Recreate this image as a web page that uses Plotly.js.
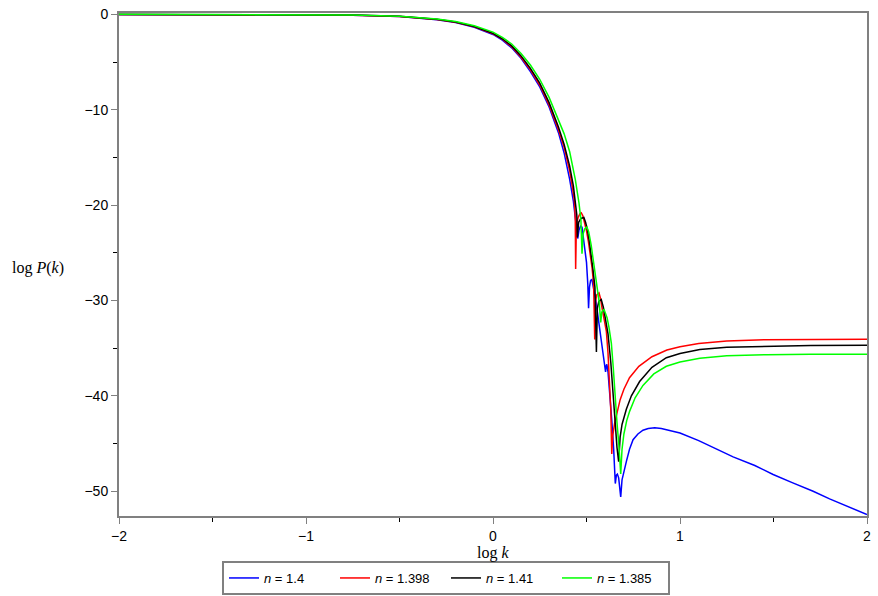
<!DOCTYPE html>
<html>
<head>
<meta charset="utf-8">
<script src="https://cdn.plot.ly/plotly-3.0.1.min.js"></script>
<style>html,body{margin:0;padding:0;background:#fff;}#chart{width:878px;height:596px;}</style>
</head>
<body>
<div id="chart"></div>
<script>
// Series names (legend)
const seriesNames = ["<i>n</i> = 1.4", "<i>n</i> = 1.398", "<i>n</i> = 1.41", "<i>n</i> = 1.385"];
const seriesColors = ["#0000ff", "#ff0000", "#000000", "#00ff00"];

// n = 1.4 (blue)
const xBlue = [-2, -1.5, -1, -0.75, -0.5, -0.4, -0.3, -0.2, -0.1, 0, 0.05, 0.1, 0.15, 0.2, 0.25, 0.3, 0.35, 0.38, 0.41, 0.43, 0.445, 0.453, 0.46, 0.468, 0.476, 0.49, 0.5, 0.507, 0.511, 0.516, 0.522, 0.529, 0.54, 0.55, 0.565, 0.58, 0.592, 0.598, 0.602, 0.606, 0.609, 0.615, 0.625, 0.635, 0.645, 0.654, 0.66, 0.665, 0.672, 0.678, 0.683, 0.69, 0.7, 0.713, 0.73, 0.749, 0.775, 0.802, 0.83, 0.865, 0.9, 0.95, 1.0, 1.1, 1.2, 1.284, 1.4, 1.498, 1.6, 1.712, 1.8, 1.9, 2.0];
const yBlue = [0, -0.01, -0.03, -0.08, -0.22, -0.35, -0.55, -0.85, -1.35, -2.1, -2.7, -3.5, -4.6, -6.0, -7.6, -9.7, -12.4, -14.5, -17.3, -19.6, -21.8, -23.5, -22.6, -22.2, -22.3, -24.2, -26.0, -28.3, -30.8, -28.6, -27.9, -27.8, -28.8, -30.0, -32.2, -34.3, -36.0, -36.9, -37.5, -36.8, -36.7, -37.5, -39.8, -42.5, -45.5, -49.2, -48.3, -48.2, -48.6, -49.5, -50.6, -48.8, -47.9, -46.9, -45.6, -44.6, -44.0, -43.6, -43.42, -43.35, -43.42, -43.62, -43.9, -44.7, -45.6, -46.4, -47.3, -48.25, -49.1, -50.0, -50.8, -51.6, -52.45];

// n = 1.398 (red)
const xRed = [-2, -1.5, -1, -0.75, -0.5, -0.4, -0.3, -0.2, -0.1, 0, 0.05, 0.1, 0.15, 0.2, 0.25, 0.3, 0.35, 0.38, 0.41, 0.425, 0.435, 0.44, 0.442, 0.446, 0.455, 0.465, 0.472, 0.48, 0.49, 0.5, 0.51, 0.52, 0.53, 0.538, 0.544, 0.549, 0.555, 0.567, 0.575, 0.585, 0.595, 0.606, 0.615, 0.624, 0.63, 0.635, 0.64, 0.651, 0.665, 0.68, 0.7, 0.73, 0.78, 0.85, 0.93, 1.0, 1.1, 1.25, 1.45, 1.7, 2.0];
const yRed = [0, -0.01, -0.03, -0.08, -0.21, -0.34, -0.53, -0.82, -1.3, -2.03, -2.6, -3.4, -4.5, -5.8, -7.4, -9.5, -12.1, -13.9, -16.4, -18.2, -19.5, -21.5, -26.7, -22.0, -21.3, -20.9, -20.8, -21.1, -21.8, -22.7, -23.8, -25.0, -26.6, -28.3, -34.1, -30.0, -29.4, -29.2, -29.8, -31.0, -32.3, -33.2, -35.5, -38.4, -41.5, -46.1, -44.2, -42.8, -41.5, -40.4, -39.3, -38.1, -36.9, -35.9, -35.2, -34.85, -34.5, -34.25, -34.12, -34.08, -34.07];

// n = 1.41 (black)
const xBlack = [-2, -1.5, -1, -0.75, -0.5, -0.4, -0.3, -0.2, -0.1, 0, 0.05, 0.1, 0.15, 0.2, 0.25, 0.3, 0.35, 0.38, 0.41, 0.43, 0.443, 0.448, 0.451, 0.458, 0.47, 0.486, 0.495, 0.505, 0.515, 0.525, 0.535, 0.545, 0.553, 0.558, 0.566, 0.579, 0.59, 0.6, 0.615, 0.63, 0.642, 0.655, 0.663, 0.672, 0.68, 0.69, 0.7, 0.713, 0.74, 0.784, 0.85, 0.927, 1.0, 1.106, 1.25, 1.463, 1.7, 2.0];
const yBlack = [0, -0.01, -0.03, -0.07, -0.2, -0.32, -0.51, -0.8, -1.27, -1.98, -2.55, -3.3, -4.35, -5.65, -7.2, -9.25, -11.8, -13.6, -15.9, -18.0, -19.8, -21.0, -23.4, -21.8, -21.4, -21.3, -21.8, -22.6, -23.8, -25.2, -26.8, -28.6, -35.4, -30.8, -30.1, -29.9, -30.7, -31.8, -33.5, -36.5, -39.8, -43.3, -45.4, -46.9, -44.3, -43.0, -42.3, -41.4, -40.0, -38.5, -37.0, -36.0, -35.55, -35.15, -34.9, -34.78, -34.72, -34.7];

// n = 1.385 (green)
const xGreen = [-2, -1.5, -1, -0.75, -0.5, -0.4, -0.3, -0.2, -0.1, 0, 0.05, 0.1, 0.15, 0.2, 0.25, 0.3, 0.35, 0.38, 0.41, 0.44, 0.46, 0.47, 0.476, 0.482, 0.49, 0.502, 0.512, 0.525, 0.54, 0.555, 0.568, 0.576, 0.582, 0.593, 0.6, 0.61, 0.62, 0.633, 0.643, 0.651, 0.663, 0.674, 0.683, 0.69, 0.7, 0.715, 0.731, 0.76, 0.802, 0.86, 0.927, 1.0, 1.106, 1.25, 1.463, 1.7, 2.0];
const yGreen = [0.02, 0.01, -0.02, -0.06, -0.18, -0.3, -0.47, -0.74, -1.18, -1.85, -2.4, -3.1, -4.1, -5.3, -6.8, -8.7, -11.1, -12.5, -14.4, -17.3, -19.8, -21.5, -25.1, -23.0, -22.5, -22.3, -22.8, -24.2, -26.3, -28.5, -30.2, -32.3, -31.2, -30.9, -31.3, -31.8, -32.8, -34.5, -37.0, -39.8, -42.8, -45.4, -48.2, -45.6, -44.0, -42.6, -41.6, -40.2, -38.9, -37.7, -36.9, -36.45, -36.05, -35.8, -35.68, -35.65, -35.64];

// Axis ticks
const xTickVals = [-2, -1, 0, 1, 2];
const yTickVals = [0, -10, -20, -30, -40, -50];

const xs = [xBlue, xRed, xBlack, xGreen];
const ys = [yBlue, yRed, yBlack, yGreen];

const traces = xs.map((x, i) => ({
  x: x, y: ys[i], type: 'scatter', mode: 'lines', name: seriesNames[i],
  line: {color: seriesColors[i], width: 1.5}
}));

const axisFont = {family: 'Liberation Sans, DejaVu Sans, sans-serif', size: 14, color: '#000'};

const layout = {
  width: 878, height: 596,
  margin: {l: 119, r: 11, t: 13, b: 80, pad: 0, autoexpand: false},
  paper_bgcolor: '#fff', plot_bgcolor: '#fff',
  showlegend: true,
  legend: {
    orientation: 'h', xref: 'container', yref: 'container',
    x: 222 / 878, xanchor: 'left', y: 1 - 561 / 596, yanchor: 'top',
    bordercolor: '#808080', borderwidth: 2, bgcolor: '#fff',
    font: {family: 'Liberation Sans, DejaVu Sans, sans-serif', size: 13, color: '#000'},
    itemwidth: 30, tracegroupgap: 0, entrywidth: 66, entrywidthmode: 'pixels'
  },
  xaxis: {
    range: [-2, 2], tickvals: xTickVals, ticks: 'outside', ticklen: 6, tickwidth: 1, tickcolor: '#808080',
    showline: true, linecolor: '#808080', linewidth: 2, mirror: true,
    showgrid: false, zeroline: false, tickfont: axisFont, ticklabelstandoff: 0,
    minor: {dtick: 0.5, tick0: 0, ticks: 'outside', ticklen: 4, tickcolor: '#000', tickwidth: 1, showgrid: false}
  },
  yaxis: {
    range: [-52.6, 0.15], tickvals: yTickVals, ticks: 'outside', ticklen: 6, tickwidth: 1, tickcolor: '#808080',
    showline: true, linecolor: '#808080', linewidth: 2, mirror: true,
    showgrid: false, zeroline: false, tickfont: axisFont,
    minor: {dtick: 5, tick0: 0, ticks: 'outside', ticklen: 4, tickcolor: '#000', tickwidth: 1, showgrid: false}
  },
  annotations: [
    {text: 'log <i>P</i>(<i>k</i>)', xref: 'paper', yref: 'paper', x: -0.108, y: 0.493,
     xanchor: 'center', yanchor: 'middle', showarrow: false,
     font: {family: 'Liberation Serif, DejaVu Serif, serif', size: 16, color: '#000'}},
    {text: 'log <i>k</i>', xref: 'x', yref: 'paper', x: 0, y: -0.073,
     xanchor: 'center', yanchor: 'middle', showarrow: false,
     font: {family: 'Liberation Serif, DejaVu Serif, serif', size: 16, color: '#000'}}
  ]
};

Plotly.newPlot('chart', traces, layout, {displayModeBar: false, staticPlot: true});
</script>
</body>
</html>
